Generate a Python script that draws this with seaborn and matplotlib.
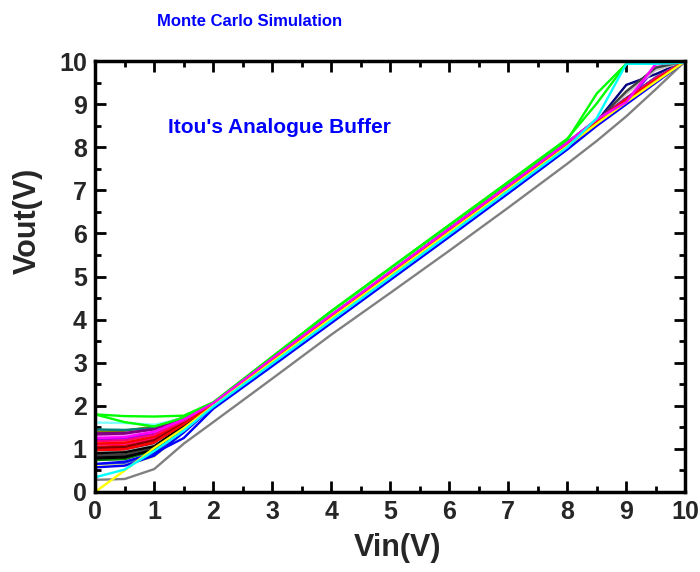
import matplotlib
matplotlib.use("Agg")
import matplotlib.pyplot as plt
import seaborn as sns
import pandas as pd
from matplotlib.ticker import MultipleLocator

# ---------------- data ----------------
vin = [0, 0.5, 1, 1.5, 2, 3, 4, 5, 6, 7, 8, 8.5, 9, 9.5, 10]

run_colors = [
    "#000000", "#FF0000", "#808000", "#000080", "#800080", "#800000",
    "#008000", "#008080", "#3050D0", "#FF8000", "#8000FF", "#FF0080",
    "#FFFFFF", "#C0C0C0", "#FFFF80", "#80FFFF", "#FF80FF", "#404040",
    "#000000", "#FF0000", "#0000FF", "#FF0000", "#000000", "#800000",
    "#800080", "#FF0080", "#FF0000",
    "#808080", "#0000FF", "#FFFF00", "#00FF00", "#00FF00", "#FF00FF", "#00FFFF",
]

vout_runs = [
    [0.82, 0.84, 1.00, 1.52, 2.04, 3.07, 4.08, 5.08, 6.09, 7.09, 8.10, 8.62, 9.12, 9.58, 10.0],
    [1.05, 1.07, 1.22, 1.60, 2.05, 3.08, 4.09, 5.09, 6.10, 7.10, 8.11, 8.63, 9.13, 9.58, 10.0],
    [1.40, 1.42, 1.52, 1.73, 2.06, 3.09, 4.10, 5.10, 6.11, 7.11, 8.12, 8.64, 9.14, 9.62, 10.0],
    [0.60, 0.64, 0.90, 1.45, 2.02, 3.05, 4.06, 5.06, 6.07, 7.07, 8.07, 8.60, 9.45, 9.70, 10.0],
    [1.32, 1.33, 1.43, 1.68, 2.06, 3.09, 4.10, 5.10, 6.11, 7.11, 8.11, 8.64, 9.14, 9.62, 10.0],
    [0.95, 0.97, 1.12, 1.56, 2.04, 3.07, 4.08, 5.08, 6.09, 7.09, 8.09, 8.61, 9.11, 9.57, 10.0],
    [0.74, 0.76, 0.96, 1.50, 2.03, 3.06, 4.07, 5.07, 6.08, 7.08, 8.08, 8.60, 9.10, 9.56, 10.0],
    [1.45, 1.44, 1.48, 1.70, 2.06, 3.09, 4.10, 5.10, 6.11, 7.11, 8.12, 8.64, 9.14, 9.62, 10.0],
    [0.62, 0.66, 0.86, 1.42, 2.00, 3.02, 4.03, 5.03, 6.04, 7.04, 8.05, 8.57, 9.07, 9.55, 10.0],
    [1.15, 1.17, 1.30, 1.63, 2.05, 3.08, 4.09, 5.09, 6.10, 7.10, 8.10, 8.63, 9.13, 9.58, 10.0],
    [1.22, 1.24, 1.36, 1.66, 2.05, 3.08, 4.09, 5.10, 6.10, 7.10, 8.11, 8.63, 9.05, 9.85, 10.0],
    [1.10, 1.12, 1.26, 1.62, 2.05, 3.08, 4.09, 5.09, 6.10, 7.10, 8.10, 8.62, 9.12, 9.60, 10.0],
    [0.88, 0.90, 1.05, 1.54, 2.04, 3.07, 4.08, 5.08, 6.09, 7.09, 8.09, 8.61, 9.11, 9.57, 10.0],
    [0.92, 0.94, 1.08, 1.55, 2.04, 3.07, 4.08, 5.08, 6.09, 7.09, 8.09, 8.61, 9.25, 9.80, 10.0],
    [0.60, 0.62, 0.82, 1.40, 2.00, 3.02, 4.03, 5.03, 6.04, 7.04, 8.04, 8.56, 9.06, 9.54, 10.0],
    [1.61, 1.60, 1.56, 1.71, 2.06, 3.10, 4.11, 5.11, 6.12, 7.12, 8.12, 8.64, 9.14, 9.62, 10.0],
    [1.28, 1.30, 1.40, 1.67, 2.06, 3.09, 4.10, 5.10, 6.11, 7.11, 8.11, 8.64, 9.10, 9.90, 10.0],
    [0.85, 0.87, 1.02, 1.53, 2.04, 3.07, 4.08, 5.08, 6.09, 7.09, 8.09, 8.61, 9.30, 9.85, 10.0],
    [0.78, 0.80, 0.98, 1.51, 2.03, 3.06, 4.07, 5.07, 6.08, 7.08, 8.08, 8.60, 9.10, 9.56, 10.0],
    [1.00, 1.02, 1.18, 1.58, 2.05, 3.08, 4.09, 5.09, 6.10, 7.10, 8.10, 8.62, 9.12, 9.58, 10.0],
    [0.57, 0.61, 0.84, 1.38, 1.98, 2.99, 4.00, 5.00, 6.00, 7.01, 8.02, 8.55, 9.05, 9.53, 10.0],
    [1.12, 1.14, 1.28, 1.62, 2.05, 3.08, 4.09, 5.09, 6.10, 7.10, 8.10, 8.62, 9.12, 9.58, 10.0],
    [0.90, 0.92, 1.06, 1.54, 2.04, 3.07, 4.08, 5.08, 6.09, 7.09, 8.09, 8.61, 9.11, 9.57, 10.0],
    [1.02, 1.04, 1.20, 1.59, 2.05, 3.08, 4.09, 5.09, 6.10, 7.10, 8.10, 8.62, 9.12, 9.58, 10.0],
    [1.36, 1.37, 1.46, 1.70, 2.06, 3.09, 4.10, 5.10, 6.11, 7.11, 8.11, 8.64, 9.14, 9.62, 10.0],
    [1.18, 1.20, 1.33, 1.65, 2.05, 3.08, 4.09, 5.09, 6.10, 7.10, 8.10, 8.62, 9.12, 9.60, 10.0],
    [0.97, 0.99, 1.15, 1.57, 2.04, 3.07, 4.08, 5.08, 6.09, 7.09, 8.09, 8.61, 9.11, 9.57, 10.0],
    [0.28, 0.30, 0.53, 1.12, 1.62, 2.63, 3.65, 4.62, 5.60, 6.60, 7.62, 8.15, 8.72, 9.35, 10.0],
    [0.65, 0.70, 0.90, 1.25, 1.93, 2.92, 3.92, 4.92, 5.92, 6.93, 7.95, 8.50, 9.00, 9.50, 10.0],
    [0.00, 0.50, 1.02, 1.48, 2.00, 3.02, 4.03, 5.03, 6.03, 7.03, 8.03, 8.55, 9.05, 9.53, 10.0],
    [1.80, 1.62, 1.52, 1.72, 2.07, 3.13, 4.19, 5.19, 6.19, 7.18, 8.17, 9.25, 9.94, 9.94, 9.97],
    [1.80, 1.76, 1.75, 1.77, 2.08, 3.14, 4.20, 5.20, 6.20, 7.20, 8.20, 9.02, 9.94, 9.94, 9.97],
    [1.25, 1.27, 1.40, 1.68, 2.06, 3.10, 4.11, 5.11, 6.11, 7.11, 8.11, 8.65, 9.05, 9.94, 9.97],
    [0.34, 0.52, 0.95, 1.42, 1.98, 2.98, 3.98, 4.98, 5.98, 6.99, 8.00, 8.68, 9.94, 9.94, 9.97],
]

x_ticks = [0, 1, 2, 3, 4, 5, 6, 7, 8, 9, 10]
y_ticks = [0, 1, 2, 3, 4, 5, 6, 7, 8, 9, 10]

title_text = "Monte Carlo Simulation"
note_text = "Itou's Analogue Buffer"
x_label = "Vin(V)"
y_label = "Vout(V)"

# ---------------- figure ----------------
sns.set_theme(style="ticks")
plt.rcParams['font.family'] = ['Liberation Sans', 'DejaVu Sans']
plt.rcParams['font.weight'] = 'bold'

rows = []
for i, vals in enumerate(vout_runs):
    for xv, yv in zip(vin, vals):
        rows.append({"run": f"run{i:02d}", "vin": xv, "vout": yv})
df = pd.DataFrame(rows)
palette = {f"run{i:02d}": c for i, c in enumerate(run_colors)}

fig = plt.figure(figsize=(7, 5.72), dpi=100)
ax = fig.add_axes([0.136, 0.140, 0.843, 0.753])

sns.lineplot(data=df, x="vin", y="vout", hue="run", palette=palette,
             legend=False, linewidth=1.7, estimator=None, sort=False, ax=ax)

ax.set_xlim(0, 10)
ax.set_ylim(0, 10)
ax.set_xticks(x_ticks)
ax.set_yticks(y_ticks)
ax.xaxis.set_minor_locator(MultipleLocator(0.5))
ax.yaxis.set_minor_locator(MultipleLocator(0.5))
ax.tick_params(which='both', direction='in', top=True, right=True, width=2, color='black')
ax.tick_params(which='major', length=8, labelsize=18, pad=6)
ax.tick_params(which='minor', length=4)
for lab in ax.get_xticklabels() + ax.get_yticklabels():
    lab.set_fontweight('bold')
for sp in ax.spines.values():
    sp.set_linewidth(2.5)
    sp.set_color('black')

ax.set_xlabel(x_label, fontsize=22, fontweight='bold')
ax.set_ylabel(y_label, fontsize=22, fontweight='bold')
ax.xaxis.set_label_coords(0.512, -0.095)
ax.yaxis.set_label_coords(-0.088, 0.63)

fig.text(0.356, 0.963, title_text, color='#0000FF', fontsize=12,
         fontweight='bold', ha='center', va='center')
ax.text(1.24, 8.45, note_text, color='#0000FF', fontsize=15,
        fontweight='bold', ha='left', va='center')

fig.savefig("out.png", dpi=100)
